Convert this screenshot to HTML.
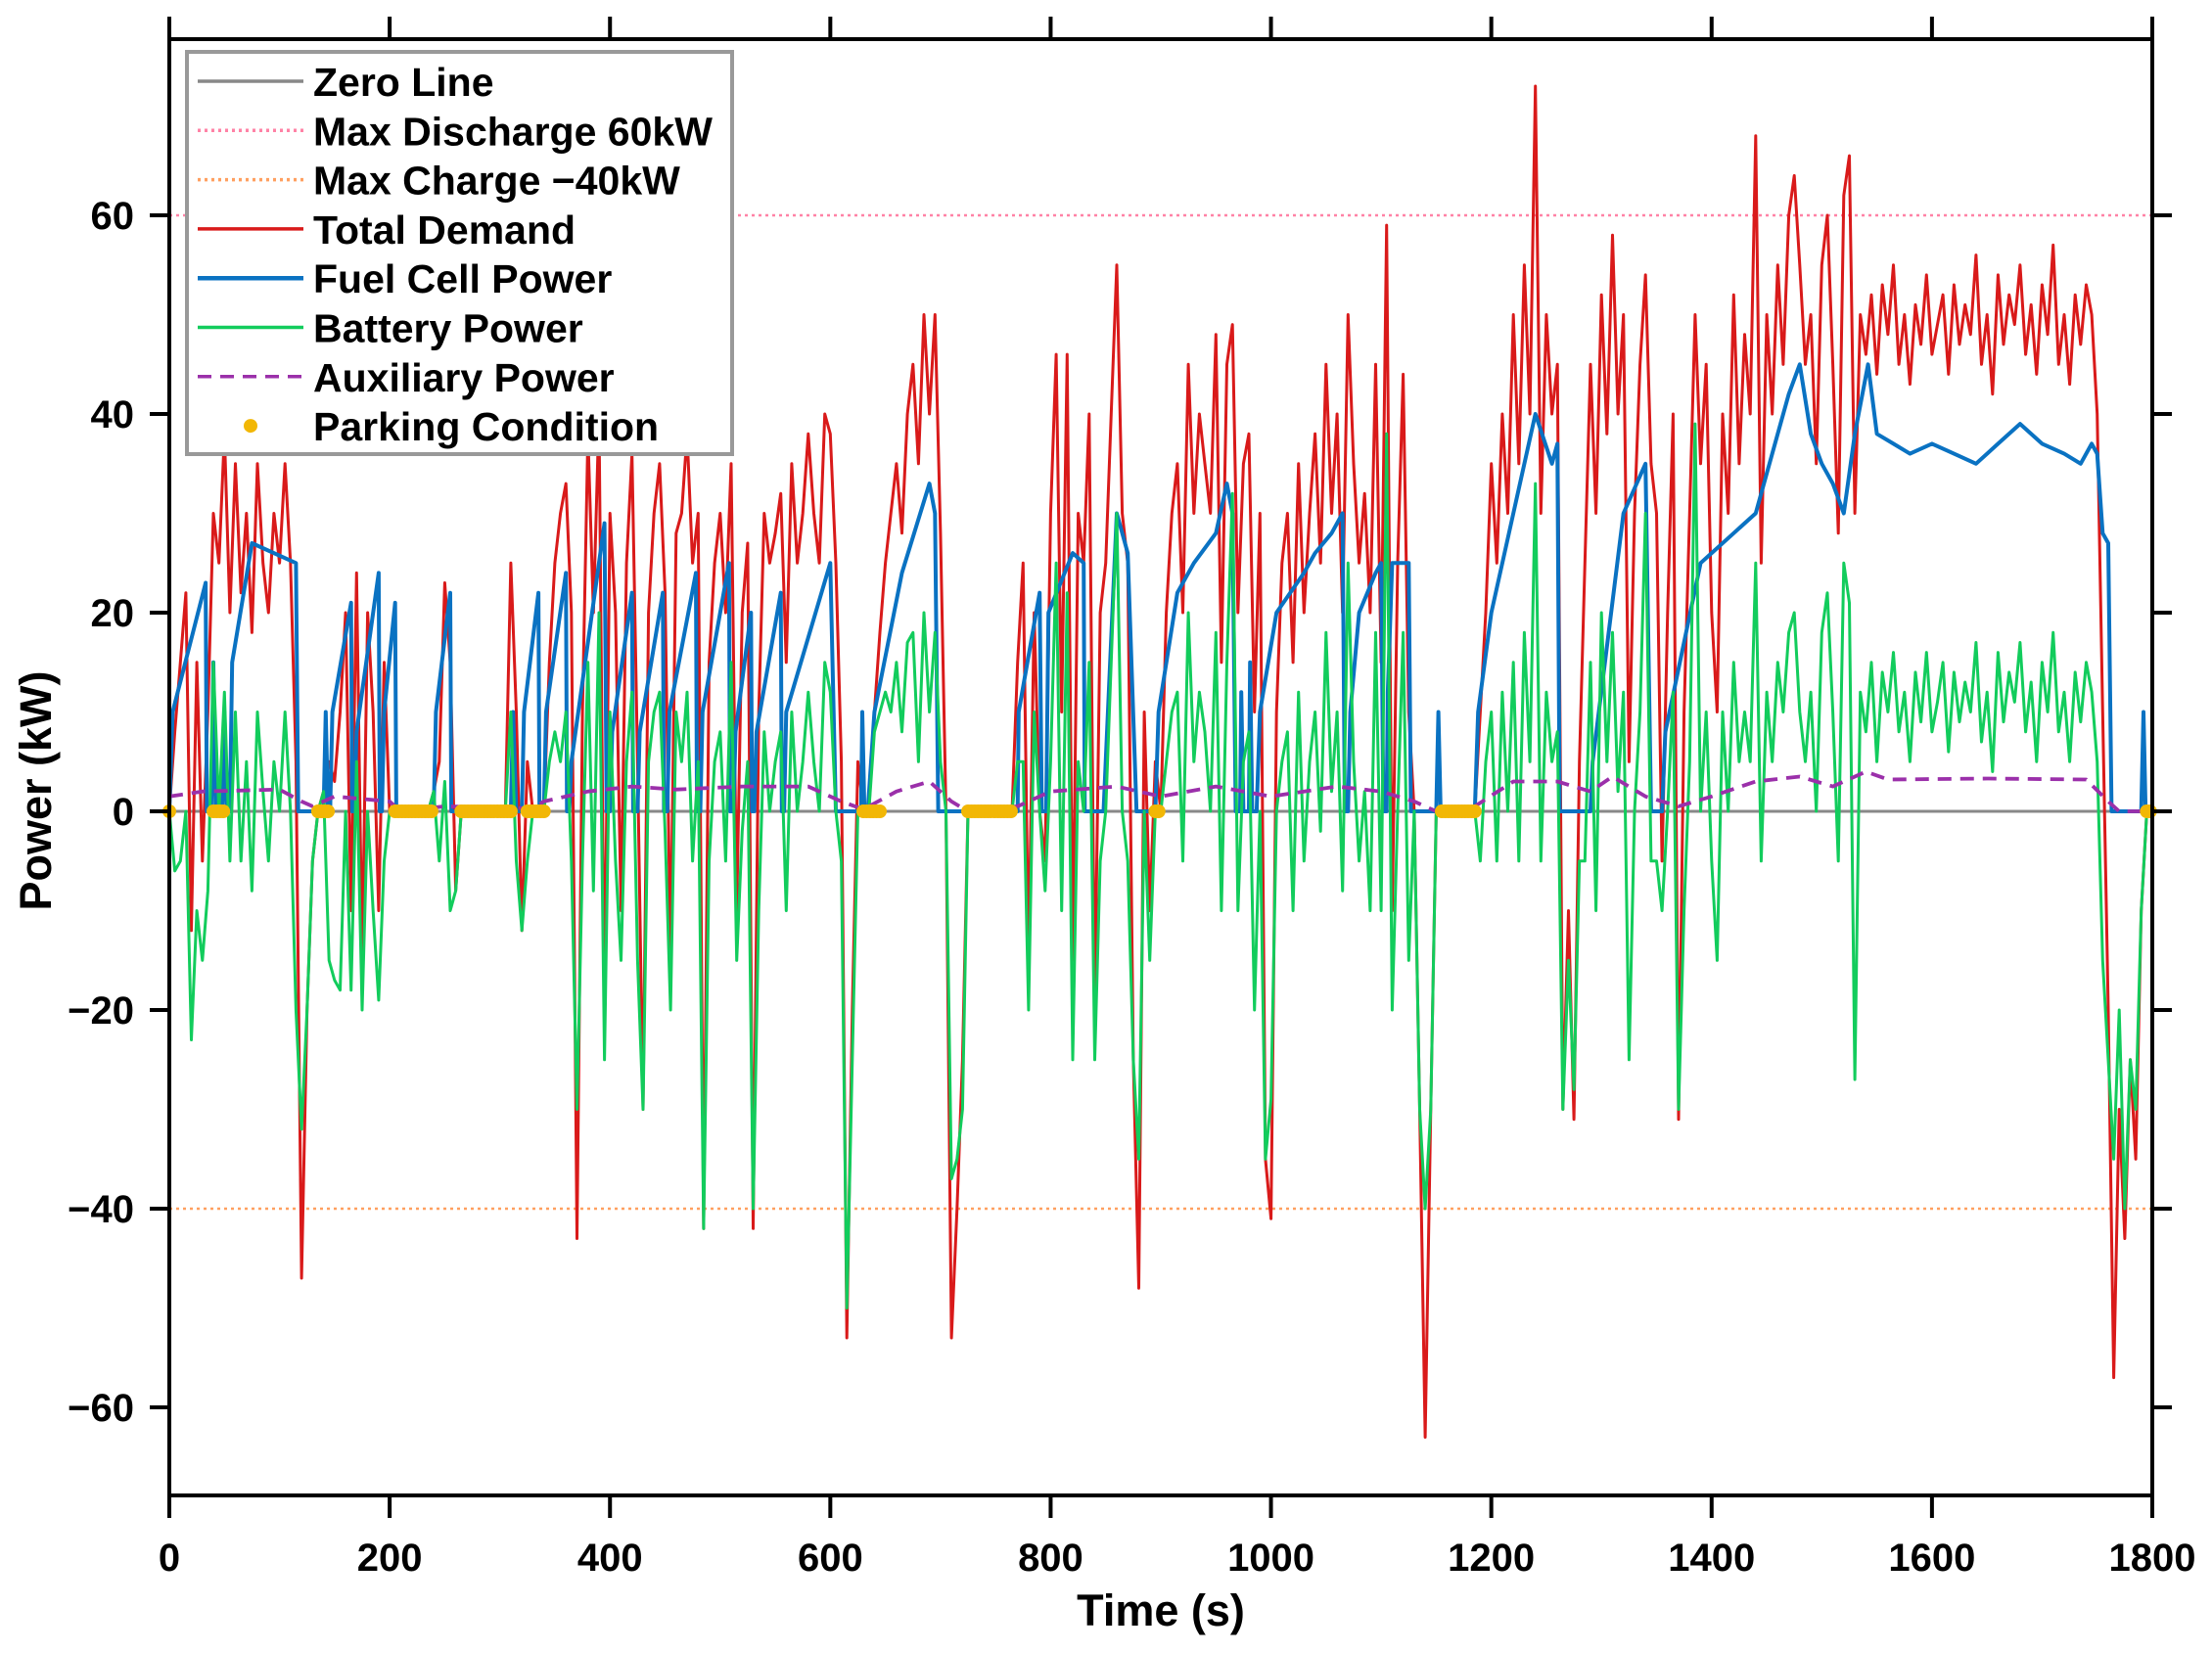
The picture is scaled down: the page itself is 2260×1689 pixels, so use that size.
<!DOCTYPE html>
<html><head><meta charset="utf-8"><style>
html,body{margin:0;padding:0;background:#fff;}
svg{display:block;font-family:"Liberation Sans Narrow","Liberation Sans",sans-serif;font-weight:bold;}
</style></head><body>
<svg id="chart" width="2260" height="1689" viewBox="0 0 2260 1689" xmlns="http://www.w3.org/2000/svg">
<g id="grid"></g>
<g id="series"></g>
<g id="axes"></g>
<g id="legend"></g>
<text x="0" y="0" transform="translate(52,808) rotate(-90)" text-anchor="middle" font-size="45">Power (kW)</text>
<text x="1186" y="1661" text-anchor="middle" font-size="45">Time (s)</text>
</svg>
<script>
const xTicks=[0,200,400,600,800,1000,1200,1400,1600,1800];
const yTicks=[-60,-40,-20,0,20,40,60];
const demandStep=5;
const demand=[
0,8,15,22,-12,15,-5,10,30,25,38,20,35,22,30,18,35,25,20,30,
25,35,25,5,-47,-20,-5,0,2,5,3,10,20,-10,24,-15,20,10,-10,15,
0,0,0,0,0,0,0,0,2,5,23,15,-8,0,0,0,0,0,0,0,
0,0,25,10,-12,5,0,0,0,15,25,30,33,20,-43,10,38,20,40,-20,
30,20,-10,25,36,5,-30,20,30,35,22,-15,28,30,38,25,30,-42,15,25,
30,20,35,-10,20,27,-42,10,30,25,28,32,15,35,25,30,38,30,25,40,
38,25,5,-53,-20,5,0,0,10,18,25,30,35,28,40,45,35,50,40,50,
28,0,-53,-40,-25,0,0,0,0,0,0,0,0,0,15,25,-15,20,0,-5,
30,46,10,46,-15,30,25,40,-20,20,25,40,55,30,25,-25,-48,10,-10,5,
0,20,30,35,20,45,30,40,35,30,48,15,45,49,20,35,38,10,30,-35,
-41,10,25,30,15,35,20,30,38,25,45,30,40,20,50,35,25,32,20,45,
15,59,-10,25,44,10,0,-30,-63,-30,0,0,0,0,0,0,0,0,10,20,
35,25,40,30,50,35,55,40,73,30,50,40,45,-30,-10,-31,5,25,45,30,
52,38,58,40,50,5,30,45,54,35,30,-5,20,40,-31,10,30,50,35,45,
20,10,40,30,52,35,48,40,68,25,50,40,55,45,60,64,55,45,50,35,
55,60,45,28,62,66,30,50,46,52,44,53,48,55,45,50,43,51,47,54,
46,49,52,44,53,47,51,48,56,45,50,42,54,47,52,49,55,46,51,44,
53,48,57,45,50,43,52,47,53,50,40,10,-20,-57,-30,-43,-25,-35,-10,0,
0];
const battery=[
0,-6,-5,0,-23,-10,-15,-8,15,0,12,-5,10,-5,5,-8,10,2,-5,5,
0,10,0,-20,-32,-20,-5,0,2,-15,-17,-18,0,-18,5,-20,0,-10,-19,-5,
0,0,0,0,0,0,0,0,2,-5,3,-10,-8,0,0,0,0,0,0,0,
0,0,10,-5,-12,-5,0,0,0,5,8,5,10,-5,-30,-5,15,-8,20,-25,
10,-5,-15,5,12,-15,-30,5,10,12,-2,-20,10,5,12,-5,5,-42,-5,5,
8,-5,15,-15,-2,5,-40,-10,8,0,5,8,-10,10,0,5,12,5,0,15,
12,0,-5,-50,-25,0,0,0,8,10,12,10,15,8,17,18,5,20,10,18,
5,0,-37,-35,-30,0,0,0,0,0,0,0,0,0,5,5,-20,10,0,-8,
5,25,-10,22,-25,5,0,15,-25,-5,0,15,30,0,-5,-25,-35,0,-15,0,
0,5,10,12,-5,20,5,12,8,0,18,-10,15,32,-10,5,8,-20,0,-35,
-29,0,5,8,-10,12,-5,5,10,-2,18,2,10,-8,25,5,-5,2,-10,18,
-10,38,-20,0,18,-15,0,-30,-40,-30,0,0,0,0,0,0,0,0,-5,5,
10,-5,12,0,15,-5,18,5,33,-5,12,5,8,-30,-15,-28,-5,-5,15,-10,
20,5,18,2,12,-25,0,10,30,-5,-5,-10,0,12,-30,-10,5,39,0,10,
-5,-15,10,0,15,5,10,5,25,-5,12,5,15,10,18,20,10,5,12,0,
18,22,10,-5,25,21,-27,12,8,15,5,14,10,16,8,12,5,14,9,16,
8,11,15,6,14,9,13,10,17,7,12,4,16,9,14,11,17,8,13,5,
15,10,18,8,12,5,14,9,15,12,5,-15,-25,-35,-20,-40,-25,-30,-10,0,
0];
const fcTimes=[0,3,33,34,38,40,42,48,50,52,55,57,75,115,117,140,142,144,146,148,165,166,168,170,190,191,193,195,205,206,240,242,255,256,310,312,315,320,322,335,336,340,342,360,361,363,365,395,397,400,402,420,421,425,427,448,449,452,454,478,479,482,484,508,509,512,514,528,529,531,533,555,556,558,560,600,605,628,629,631,634,640,665,690,695,698,770,771,790,792,796,798,820,830,831,848,850,860,870,878,895,898,915,930,950,960,965,968,972,973,975,980,981,983,987,990,1005,1030,1040,1055,1065,1067,1070,1072,1080,1095,1100,1102,1105,1106,1110,1125,1127,1150,1152,1154,1185,1188,1200,1220,1240,1255,1260,1262,1290,1292,1320,1340,1345,1355,1358,1390,1400,1420,1440,1460,1470,1480,1490,1500,1510,1520,1530,1542,1550,1565,1580,1600,1620,1640,1660,1680,1700,1720,1735,1745,1750,1755,1760,1763,1790,1792,1794,1800];
const fcValues=[0,10,23,0,0,15,0,0,10,0,0,15,27,25,0,0,10,0,0,10,21,0,0,8,24,0,0,10,21,0,0,10,22,0,0,10,0,0,10,22,0,0,10,24,0,0,5,29,0,0,8,22,0,0,8,22,0,0,10,24,0,0,10,25,0,0,8,20,0,0,8,22,0,0,10,25,0,0,10,0,0,10,24,33,30,0,0,10,22,0,0,20,26,25,0,0,5,30,26,0,0,10,22,25,28,33,30,0,0,12,0,0,15,0,0,10,20,24,26,28,30,0,0,10,20,24,25,0,0,12,25,25,0,0,10,0,0,10,20,30,40,35,37,0,0,5,30,35,0,0,8,25,26,28,30,38,42,45,38,35,33,30,38,45,38,37,36,37,36,35,37,39,37,36,35,37,36,28,27,0,0,10,0,0];
const auxTimes=[0,30,100,120,130,150,200,210,250,330,340,380,420,460,520,580,610,630,660,690,710,725,770,800,860,900,950,1000,1030,1060,1100,1130,1150,1185,1220,1260,1290,1310,1340,1370,1400,1440,1480,1510,1540,1560,1650,1740,1760,1770,1800];
const auxValues=[1.5,2,2.2,1,0.5,1.5,1,0,0.5,0.3,1,2,2.5,2.2,2.5,2.5,1,0.2,2,3,1,0,0.5,2,2.5,1.5,2.5,1.5,2,2.5,2,1,0,0.5,3,3,2,3.5,1.5,0.5,1.5,3,3.5,2.5,4,3.2,3.3,3.2,1,0,0];
const parkingStarts=[0,40,135,205,265,325,630,725,895,1155,1795];
const parkingEnds=[2,50,145,240,310,340,645,765,900,1185,1800];
const maxDischarge=60, maxCharge=-40;

const NS="http://www.w3.org/2000/svg";
const X0=173,X1=2199,Y0=40,Y1=1528,ZERO=829,PXKW=10.15;
const sx=t=>X0+(X1-X0)*t/1800;
const sy=v=>ZERO-v*PXKW;
function mk(tag,attrs,parent){const e=document.createElementNS(NS,tag);for(const k in attrs)e.setAttribute(k,attrs[k]);parent.appendChild(e);return e;}
const ser=document.getElementById('series'),ax=document.getElementById('axes'),lg=document.getElementById('legend');
function poly(ts,vs,style){let d='';for(let i=0;i<vs.length;i++){d+=(i?'L':'M')+sx(ts[i]).toFixed(1)+','+sy(vs[i]).toFixed(1);}return mk('path',Object.assign({d:d,fill:'none','stroke-linejoin':'round'},style),ser);}
const dT=demand.map((v,i)=>i*demandStep), bT=battery.map((v,i)=>i*demandStep);

let z=mk('line',{x1:X0,x2:X1,y1:sy(0),y2:sy(0),stroke:'#888',"stroke-width":3},ser);

let l1=mk('line',{x1:X0,x2:X1,y1:sy(maxDischarge),y2:sy(maxDischarge),stroke:'#ff82a6',"stroke-width":2.5,"stroke-dasharray":"3,4"},ser);

let l2=mk('line',{x1:X0,x2:X1,y1:sy(maxCharge),y2:sy(maxCharge),stroke:'#ffa060',"stroke-width":2.5,"stroke-dasharray":"3,4"},ser);

let pd=poly(dT,demand,{stroke:'#d91a1a','stroke-width':3});

let pf=poly(fcTimes,fcValues,{stroke:'#0a72c2','stroke-width':4});

let pb=poly(bT,battery,{stroke:'#12cc5c','stroke-width':3});

let pa=poly(auxTimes,auxValues,{stroke:'#9b30aa','stroke-width':3.8,'stroke-dasharray':'14,9'});

for(let k=0;k<parkingStarts.length;k++){
  for(let t=parkingStarts[k];t<=parkingEnds[k];t+=3){
    const c=mk('circle',{cx:sx(t),cy:sy(0),r:7,fill:'#f2b705'},ser);
    
    
  }
}
let fr=mk('rect',{x:X0,y:Y0,width:X1-X0,height:Y1-Y0,fill:'none',stroke:'#000','stroke-width':4},ax);

xTicks.forEach(t=>{
  const x=sx(t);
  const a=mk('line',{x1:x,x2:x,y1:Y1,y2:Y1+23,stroke:'#000','stroke-width':4},ax);
  
  const b=mk('line',{x1:x,x2:x,y1:Y0,y2:Y0-23,stroke:'#000','stroke-width':4},ax);
  
  const tx=mk('text',{x:x,y:1605,'text-anchor':'middle','font-size':40},ax);tx.textContent=t;
  
});
yTicks.forEach(v=>{
  const y=sy(v);
  const a=mk('line',{x1:X0-20,x2:X0,y1:y,y2:y,stroke:'#000','stroke-width':4},ax);
  
  const b=mk('line',{x1:X1,x2:X1+20,y1:y,y2:y,stroke:'#000','stroke-width':4},ax);
  
  const tx=mk('text',{x:137,y:y+14,'text-anchor':'end','font-size':40},ax);tx.textContent=(v<0?'\u2212'+(-v):v);
  
});
const lgLabels=['Zero Line','Max Discharge 60kW','Max Charge \u221240kW','Total Demand','Fuel Cell Power','Battery Power','Auxiliary Power','Parking Condition'];
const lgColors=['#888','#ff82a6','#ffa060','#d91a1a','#0a72c2','#12cc5c','#9b30aa','#f2b705'];
const lgDash=['','3,4','3,4','','','','14,9',''];
let box=mk('rect',{x:191,y:53,width:557,height:411,fill:'#fff',stroke:'#999','stroke-width':4},lg);

lgLabels.forEach((s,i)=>{
  const y=83+i*50.3;
  if(i<7){
    const l=mk('line',{x1:202,x2:310,y1:y,y2:y,stroke:lgColors[i],'stroke-width':(i==4?4.5:3.5),'stroke-dasharray':lgDash[i]},lg);
    
  }else{
    const c=mk('circle',{cx:256,cy:y,r:7,fill:lgColors[i]},lg);
    
  }
  const t=mk('text',{x:320,y:y+15,'font-size':41},lg);t.textContent=s;
  
});
</script>
</body></html>
